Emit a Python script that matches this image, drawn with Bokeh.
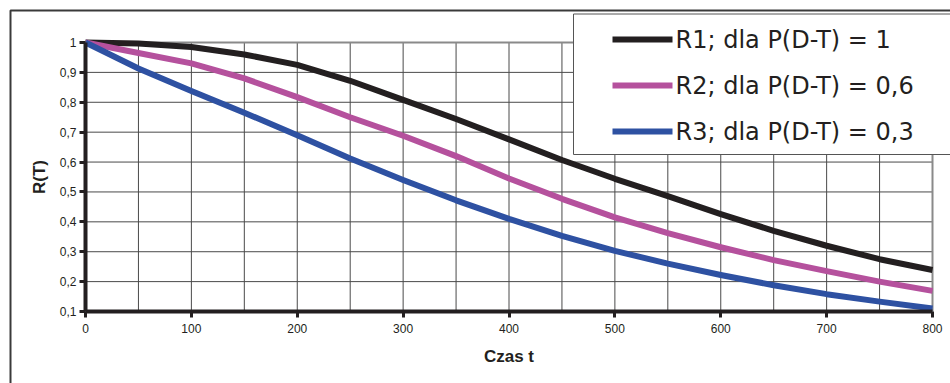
from bokeh.plotting import figure
from bokeh.models import FixedTicker, CustomJSTickFormatter, Label, BoxAnnotation, Range1d
from bokeh.embed import file_html
from bokeh.resources import INLINE

# ---- data ----
t = [0, 50, 100, 150, 200, 250, 300, 350, 400, 450, 500, 550, 600, 650, 700, 750, 800]
r1 = [1.0, 0.997, 0.985, 0.960, 0.925, 0.872, 0.808, 0.744, 0.676, 0.607, 0.544, 0.486, 0.426, 0.370, 0.320, 0.275, 0.239]
r2 = [1.0, 0.965, 0.930, 0.880, 0.817, 0.750, 0.688, 0.620, 0.545, 0.477, 0.415, 0.362, 0.315, 0.272, 0.235, 0.200, 0.169]
r3 = [1.0, 0.913, 0.838, 0.765, 0.690, 0.612, 0.540, 0.472, 0.410, 0.353, 0.303, 0.260, 0.222, 0.188, 0.158, 0.133, 0.110]
series = [r1, r2, r3]
series_labels = ["R1; dla P(D-T) = 1", "R2; dla P(D-T) = 0,6", "R3; dla  P(D-T) = 0,3"]
x_ticks = [0, 100, 200, 300, 400, 500, 600, 700, 800]
x_grid = [50, 100, 150, 200, 250, 300, 350, 400, 450, 500, 550, 600, 650, 700, 750]
y_ticks = [0.1, 0.2, 0.3, 0.4, 0.5, 0.6, 0.7, 0.8, 0.9, 1.0]
y_grid = [0.2, 0.3, 0.4, 0.5, 0.6, 0.7, 0.8, 0.9]
x_min, x_max = 0, 800
y_min, y_max = 0.1, 1.0
x_title = "Czas t"
y_title = "R(T)"

# ---- styles / layout ----
colors = ["#231f20", "#b5519d", "#2e51a2"]
FONT = "Liberation Sans"
LEG_FONT = "DejaVu Sans"
INK = "#231f20"
W, H = 950, 383
# pixel position of the plotting area inside the page
PX_L, PX_R, PX_T, PX_B = 85, 932, 42, 311
kx = (PX_R - PX_L) / (x_max - x_min)
ky = (PX_B - PX_T) / (y_max - y_min)
xr = Range1d(x_min - PX_L / kx, x_max + (W - PX_R) / kx)
yr = Range1d(y_min - (H - PX_B) / ky, y_max + PX_T / ky)

p = figure(width=W, height=H, output_backend="svg", toolbar_location=None,
           x_range=xr, y_range=yr,
           min_border_left=0, min_border_right=0, min_border_top=0, min_border_bottom=0)
p.background_fill_color = "white"
p.border_fill_color = "white"
p.outline_line_color = None
p.xgrid.visible = False
p.ygrid.visible = False

# grid lines inside the plotting area
p.segment(x0=x_grid, y0=[y_min] * len(x_grid), x1=x_grid, y1=[y_max] * len(x_grid),
          line_color="#4a4a4a", line_width=1)
p.segment(x0=[x_min] * len(y_grid), y0=y_grid, x1=[x_max] * len(y_grid), y1=y_grid,
          line_color="#4a4a4a", line_width=1)
# top and right border of the plotting area
p.segment(x0=[x_min, x_max], y0=[y_max, y_min], x1=[x_max, x_max], y1=[y_max, y_max],
          line_color="#8a8a8a", line_width=2)

# axes, pinned to the plotting area
p.xaxis.fixed_location = y_min
p.yaxis.fixed_location = x_min
p.xaxis.bounds = (x_min, x_max)
p.yaxis.bounds = (y_min, y_max)
p.xaxis.ticker = FixedTicker(ticks=x_ticks)
p.yaxis.ticker = FixedTicker(ticks=y_ticks)
p.yaxis.formatter = CustomJSTickFormatter(code="""
    var s = (Math.round(tick * 10) / 10).toString();
    return s.replace('.', ',');
""")
for ax in (p.xaxis, p.yaxis):
    ax.axis_line_color = INK
    ax.axis_line_width = 4
    ax.major_tick_line_color = INK
    ax.major_tick_line_width = 3
    ax.major_tick_out = 6
    ax.major_tick_in = 0
    ax.minor_tick_line_color = None
    ax.major_label_text_font = FONT
    ax.major_label_text_font_size = "12px"
    ax.major_label_text_color = INK
    ax.axis_label_text_font = FONT
    ax.axis_label_text_font_size = "17px"
    ax.axis_label_text_font_style = "bold"
    ax.axis_label_text_color = INK
p.xaxis.major_label_standoff = 6
p.yaxis.major_label_standoff = 3
p.xaxis.axis_label = x_title
p.yaxis.axis_label = y_title
p.xaxis.axis_label_standoff = 11
p.yaxis.axis_label_standoff = 8

# curves
for ys, c in zip(series, colors):
    p.line(t, ys, line_color=c, line_width=6, line_join="round", line_cap="butt")

# screen units: origin at bottom-left of the plotting frame (= whole canvas here)
def sy(y):
    return H - y

# outer chart border
p.add_layout(BoxAnnotation(left=10, right=W + 50, top=sy(10), bottom=sy(H + 50),
                           left_units="screen", right_units="screen",
                           top_units="screen", bottom_units="screen",
                           fill_color=None, line_color="#3a3a3a", line_alpha=1.0, line_width=2))

# legend box
p.add_layout(BoxAnnotation(left=573, right=W + 50, top=sy(13.5), bottom=sy(154),
                           left_units="screen", right_units="screen",
                           top_units="screen", bottom_units="screen",
                           fill_color="white", fill_alpha=1.0,
                           line_color="#555555", line_alpha=1.0, line_width=1))
row_y = [39, 85, 131]
for lab, c, ry in zip(series_labels, colors, row_y):
    p.add_layout(BoxAnnotation(left=612, right=672, top=sy(ry - 3), bottom=sy(ry + 3),
                               left_units="screen", right_units="screen",
                               top_units="screen", bottom_units="screen",
                               fill_color=c, fill_alpha=1.0, line_color=None))
    p.add_layout(Label(x=675, y=sy(ry), x_units="screen", y_units="screen", text=lab,
                       text_font=LEG_FONT, text_font_size="24px", text_color=INK,
                       text_align="left", text_baseline="middle"))

open("out.html", "w").write(file_html(p, INLINE))
